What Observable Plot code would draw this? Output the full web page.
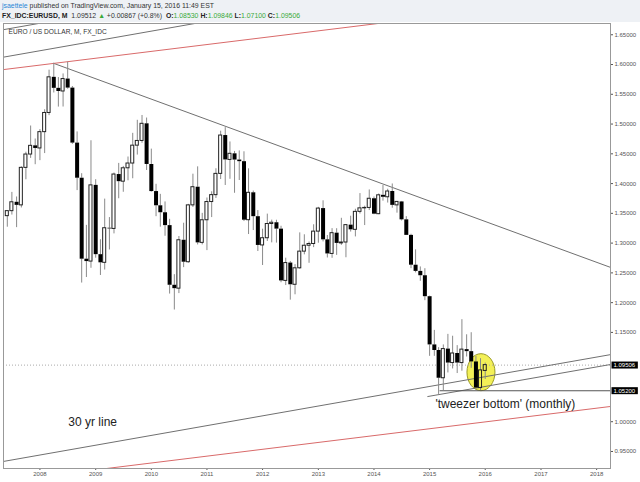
<!DOCTYPE html>
<html>
<head>
<meta charset="utf-8">
<script src="https://cdn.jsdelivr.net/npm/d3@7"></script>
<script src="https://cdn.jsdelivr.net/npm/@observablehq/plot@0.6"></script>
<style>
  body { margin: 0; background: #eef1f5; font-family: "Liberation Sans", Arial, sans-serif; }
  #hdr { height: 22px; width: 640px; position: relative; color: #333; }
  #l1 { position: absolute; left: 2px; top: 2px; font-size: 6.9px; white-space: nowrap; }
  #l2 { position: absolute; left: 2px; top: 12px; font-size: 6.9px; white-space: nowrap; }
  .u { color: #2b86d6; }
  .b { font-weight: bold; color: #222; }
  .g { color: #3aaa3a; }
  #chart { width: 640px; height: 460px; }
  #chart svg { display: block; }
</style>
</head>
<body>
<div id="hdr">
  <div id="l1"><span class="u">jsaettele</span> published on TradingView.com, January 15, 2016 11:49 EST</div>
  <div id="l2"><span class="b">FX_IDC:EURUSD, M</span>&nbsp; 1.09512 <span class="g">▲</span> +0.00867 (+0.8%) &nbsp;<span class="b">O:</span><span class="g">1.08530</span> <span class="b">H:</span><span class="g">1.09846</span> <span class="b">L:</span><span class="g">1.07100</span> <span class="b">C:</span><span class="g">1.09506</span></div>
</div>
<div id="chart"></div>
<script>
// ---- monthly EUR/USD candles ----
const months = [
  "2007-06","2007-07","2007-08","2007-09","2007-10","2007-11","2007-12",
  "2008-01","2008-02","2008-03","2008-04","2008-05","2008-06","2008-07","2008-08","2008-09","2008-10","2008-11","2008-12",
  "2009-01","2009-02","2009-03","2009-04","2009-05","2009-06","2009-07","2009-08","2009-09","2009-10","2009-11","2009-12",
  "2010-01","2010-02","2010-03","2010-04","2010-05","2010-06","2010-07","2010-08","2010-09","2010-10","2010-11","2010-12",
  "2011-01","2011-02","2011-03","2011-04","2011-05","2011-06","2011-07","2011-08","2011-09","2011-10","2011-11","2011-12",
  "2012-01","2012-02","2012-03","2012-04","2012-05","2012-06","2012-07","2012-08","2012-09","2012-10","2012-11","2012-12",
  "2013-01","2013-02","2013-03","2013-04","2013-05","2013-06","2013-07","2013-08","2013-09","2013-10","2013-11","2013-12",
  "2014-01","2014-02","2014-03","2014-04","2014-05","2014-06","2014-07","2014-08","2014-09","2014-10","2014-11","2014-12",
  "2015-01","2015-02","2015-03","2015-04","2015-05","2015-06","2015-07","2015-08","2015-09","2015-10","2015-11","2015-12",
  "2016-01"
];
const opens = [
  1.3453,1.3537,1.3686,1.3634,1.4264,1.4488,1.4634,
  1.4590,1.4864,1.5186,1.5785,1.5600,1.5547,1.5756,1.5604,1.4680,1.4090,1.2730,1.2690,
  1.3970,1.2806,1.2669,1.3250,1.3238,1.4152,1.4032,1.4257,1.4337,1.4637,1.4716,1.5004,
  1.4321,1.3866,1.3627,1.3510,1.3294,1.2292,1.2235,1.3048,1.2679,1.3634,1.3939,1.3004,
  1.3384,1.3690,1.3806,1.4163,1.4807,1.4397,1.4500,1.4395,1.4368,1.3385,1.3845,1.3444,
  1.2961,1.3082,1.3321,1.3342,1.3235,1.2365,1.2665,1.2300,1.2577,1.2857,1.2956,1.2985,
  1.3193,1.3580,1.3055,1.2818,1.3167,1.2995,1.3010,1.3302,1.3223,1.3525,1.3584,1.3591,
  1.3745,1.3486,1.3803,1.3770,1.3867,1.3634,1.3692,1.3391,1.3130,1.2629,1.2525,1.2452,
  1.2100,1.1290,1.1196,1.0730,1.1220,1.0985,1.1146,1.0985,1.1211,1.1177,1.1004,1.0565,
  1.0853
];
const highs = [
  1.3545,1.3852,1.3775,1.4282,1.4527,1.4967,1.4749,
  1.4907,1.5240,1.5905,1.6019,1.5781,1.5842,1.6038,1.5631,1.4868,1.4166,1.3298,1.4719,
  1.4065,1.3057,1.3739,1.3429,1.4177,1.4339,1.4288,1.4446,1.4844,1.5063,1.5144,1.5101,
  1.4579,1.3988,1.3819,1.3692,1.3400,1.2470,1.3111,1.3334,1.3651,1.4158,1.4281,1.3500,
  1.3758,1.3862,1.4249,1.4880,1.4940,1.4699,1.4540,1.4549,1.4534,1.4248,1.3875,1.3547,
  1.3234,1.3487,1.3386,1.3384,1.3283,1.2747,1.2692,1.2638,1.3172,1.3140,1.3018,1.3308,
  1.3601,1.3711,1.3128,1.3243,1.3242,1.3417,1.3312,1.3452,1.3569,1.3832,1.3620,1.3893,
  1.3775,1.3825,1.3967,1.3905,1.3993,1.3700,1.3700,1.3444,1.3149,1.2887,1.2600,1.2570,
  1.2109,1.1534,1.1244,1.1290,1.1467,1.1436,1.1278,1.1714,1.1460,1.1495,1.1095,1.1059,
  1.0985
];
const lows = [
  1.3267,1.3471,1.3260,1.3590,1.4064,1.4423,1.4317,
  1.4385,1.4504,1.5141,1.5522,1.5285,1.5286,1.5585,1.4660,1.3882,1.2329,1.2422,1.2577,
  1.2747,1.2456,1.2548,1.2885,1.3155,1.3745,1.3854,1.4047,1.4081,1.4479,1.4677,1.4220,
  1.3856,1.3444,1.3268,1.3115,1.2144,1.1876,1.2152,1.2588,1.2663,1.3599,1.2969,1.2970,
  1.2874,1.3429,1.3750,1.4068,1.3968,1.4072,1.3837,1.4052,1.3362,1.3144,1.3211,1.2859,
  1.2624,1.3028,1.3004,1.3000,1.2334,1.2287,1.2042,1.2132,1.2562,1.2803,1.2661,1.2924,
  1.2998,1.3020,1.2750,1.2745,1.2794,1.2962,1.2754,1.3186,1.3104,1.3489,1.3295,1.3547,
  1.3477,1.3478,1.3705,1.3673,1.3586,1.3503,1.3372,1.3129,1.2571,1.2500,1.2358,1.2033,
  1.1098,1.1098,1.0458,1.0520,1.0819,1.0886,1.0809,1.0848,1.1087,1.0896,1.0556,1.0524,
  1.0710
];
const closes = [
  1.3537,1.3686,1.3634,1.4264,1.4488,1.4634,1.4590,
  1.4864,1.5186,1.5785,1.5600,1.5547,1.5756,1.5604,1.4680,1.4090,1.2730,1.2690,1.3970,
  1.2806,1.2669,1.3250,1.3238,1.4152,1.4032,1.4257,1.4337,1.4637,1.4716,1.5004,1.4321,
  1.3866,1.3627,1.3510,1.3294,1.2292,1.2235,1.3048,1.2679,1.3634,1.3939,1.3004,1.3384,
  1.3690,1.3806,1.4163,1.4807,1.4397,1.4500,1.4395,1.4368,1.3385,1.3845,1.3444,1.2961,
  1.3082,1.3321,1.3342,1.3235,1.2365,1.2665,1.2300,1.2577,1.2857,1.2956,1.2985,1.3193,
  1.3580,1.3055,1.2818,1.3167,1.2995,1.3010,1.3302,1.3223,1.3525,1.3584,1.3591,1.3745,
  1.3486,1.3803,1.3770,1.3867,1.3634,1.3692,1.3391,1.3130,1.2629,1.2525,1.2452,1.2100,
  1.1290,1.1196,1.0730,1.1220,1.0985,1.1146,1.0985,1.1211,1.1177,1.1004,1.0565,1.0862,
  1.0951
];

// ---- axis ticks ----
const yearTicks = ["2008","2009","2010","2011","2012","2013","2014","2015","2016","2017","2018"];
const priceTicks = [0.95,1.00,1.15,1.20,1.25,1.30,1.35,1.40,1.45,1.50,1.55,1.60,1.65];
const xDomain = ["2007-05-07","2018-04-02"];
const yDomain = [0.9214, 1.6689];

// ---- drawings (anchor points: date, price) ----
const resistanceLine = [["2008-04-01", 1.6019], ["2018-05-01", 1.2565]];
const thirtyYearLine = [["2007-05-01", 0.9330], ["2018-05-01", 1.1140]];
const upperChannel   = [["2007-05-01", 1.6121], ["2018-05-01", 1.7931]];
const topChannel     = [["2007-05-01", 1.6583], ["2018-05-01", 1.8393]];
const supportLine    = [["2014-12-20", 1.0423], ["2018-05-01", 1.0974]];
const redUpper       = [["2007-05-01", 1.5913], ["2018-05-01", 1.7179]];
const redLower       = [["2007-05-01", 0.8999], ["2018-05-01", 1.0265]];
const lowLevel       = [["2015-03-10", 1.052], ["2018-05-01", 1.052]];
const lastPrice = 1.09506;
const markedPrices = [1.09506, 1.052];
const highlight = [["2015-12-04", 1.0832]];
const lineNote = [{date: "2008-12-12", price: 0.9990, text: "30 yr line"}];
const tweezerNote = [{date: "2015-02-08", price: 1.0300, text: "'tweezer bottom' (monthly)"}];
const chartLabel = "EURO / US DOLLAR, M, FX_IDC";

// ---- build ----
const toDate = s => { const [y, m, d] = s.split("-").map(Number); return new Date(Date.UTC(y, (m || 1) - 1, d || 1)); };
const bars = months.map((m, i) => ({date: toDate(m), o: opens[i], h: highs[i], l: lows[i], c: closes[i]}));
const up = bars.filter(b => b.c >= b.o);
const down = bars.filter(b => b.c < b.o);
const seg = a => a.map(([d, p]) => ({date: toDate(d), p}));

const ellipseSymbol = {
  draw(ctx) {
    const rx = 14, ry = 18.5, k = 0.5523;
    ctx.moveTo(rx, 0);
    ctx.bezierCurveTo(rx, ry * k, rx * k, ry, 0, ry);
    ctx.bezierCurveTo(-rx * k, ry, -rx, ry * k, -rx, 0);
    ctx.bezierCurveTo(-rx, -ry * k, -rx * k, -ry, 0, -ry);
    ctx.bezierCurveTo(rx * k, -ry, rx, -ry * k, rx, 0);
    ctx.closePath();
  }
};

const lineOpts = (stroke) => ({x: "date", y: "p", stroke, strokeWidth: 1, clip: true});

const chart = Plot.plot({
  width: 640,
  height: 460,
  marginTop: 1,
  marginBottom: 14,
  marginLeft: 3,
  marginRight: 30,
  style: {fontFamily: "'Liberation Sans', Arial, sans-serif", fontSize: "6px", color: "#555", background: "white", overflow: "visible"},
  x: {type: "utc", domain: xDomain.map(toDate), ticks: yearTicks.map(toDate), tickFormat: d3.utcFormat("%Y"), tickSize: 2, tickPadding: 1, label: null},
  y: {domain: yDomain, ticks: priceTicks, tickFormat: d => d.toFixed(5), tickSize: 2, tickPadding: 2, label: null, axis: "right"},
  marks: [
    Plot.dot(seg(highlight), {x: "date", y: "p", symbol: ellipseSymbol, r: 10, fill: "#f2ee45", fillOpacity: 0.9, stroke: "#9a9a25", strokeWidth: 1}),
    Plot.ruleY([lastPrice], {stroke: "#aaa", strokeDasharray: "1,2"}),
    Plot.line(seg(resistanceLine), lineOpts("#707070")),
    Plot.line(seg(thirtyYearLine), lineOpts("#707070")),
    Plot.line(seg(upperChannel), lineOpts("#707070")),
    Plot.line(seg(topChannel), lineOpts("#707070")),
    Plot.line(seg(supportLine), lineOpts("#707070")),
    Plot.line(seg(lowLevel), lineOpts("#555")),
    Plot.line(seg(redUpper), lineOpts("#d96a6a")),
    Plot.line(seg(redLower), lineOpts("#d96a6a")),
    // wicks
    Plot.ruleX(bars, {x: "date", y1: "h", y2: d => Math.max(d.o, d.c), stroke: "#8a8a8a", clip: true}),
    Plot.ruleX(bars, {x: "date", y1: d => Math.min(d.o, d.c), y2: "l", stroke: "#8a8a8a", clip: true}),
    // bodies
    Plot.ruleX(down, {x: "date", y1: "o", y2: "c", stroke: "#000", strokeWidth: 4, clip: true}),
    Plot.rect(up, {x1: d => d3.utcDay.offset(d.date, -10), x2: d => d3.utcDay.offset(d.date, 10), y1: "o", y2: "c", fill: "none", stroke: "#222", strokeWidth: 1, clip: true}),
    // texts
    Plot.text([chartLabel], {frameAnchor: "top-left", dx: 5, dy: 6, text: d => d, fontSize: 6.6, fill: "#333", textAnchor: "start", lineAnchor: "top"}),
    Plot.text(lineNote, {x: d => toDate(d.date), y: "price", text: "text", textAnchor: "middle", fontSize: 12, fill: "#222"}),
    Plot.text(tweezerNote, {x: d => toDate(d.date), y: "price", text: "text", textAnchor: "start", fontSize: 12, fill: "#222"}),
    Plot.text(markedPrices, {y: d => d, text: d => d.toFixed(5), frameAnchor: "right", dx: 3, textAnchor: "start", fill: "white", fontSize: 6}),
    Plot.frame({stroke: "#999"})
  ]
});

document.getElementById("chart").append(chart);
const svg = chart.tagName && chart.tagName.toLowerCase() === "svg" ? chart : chart.querySelector("svg");
const labelTexts = markedPrices.map(v => v.toFixed(5));
svg.querySelectorAll("text").forEach(t => {
  if (labelTexts.includes(t.textContent)) {
    const b = t.getBBox();
    const r = document.createElementNS("http://www.w3.org/2000/svg", "rect");
    r.setAttribute("x", b.x - 2);
    r.setAttribute("y", b.y - 0.5);
    r.setAttribute("width", b.width + 4);
    r.setAttribute("height", b.height + 1);
    r.setAttribute("fill", "#000");
    r.setAttribute("stroke", "none");
    if (t.getAttribute("transform")) r.setAttribute("transform", t.getAttribute("transform"));
    t.parentNode.insertBefore(r, t);
  }
});
</script>
</body>
</html>
